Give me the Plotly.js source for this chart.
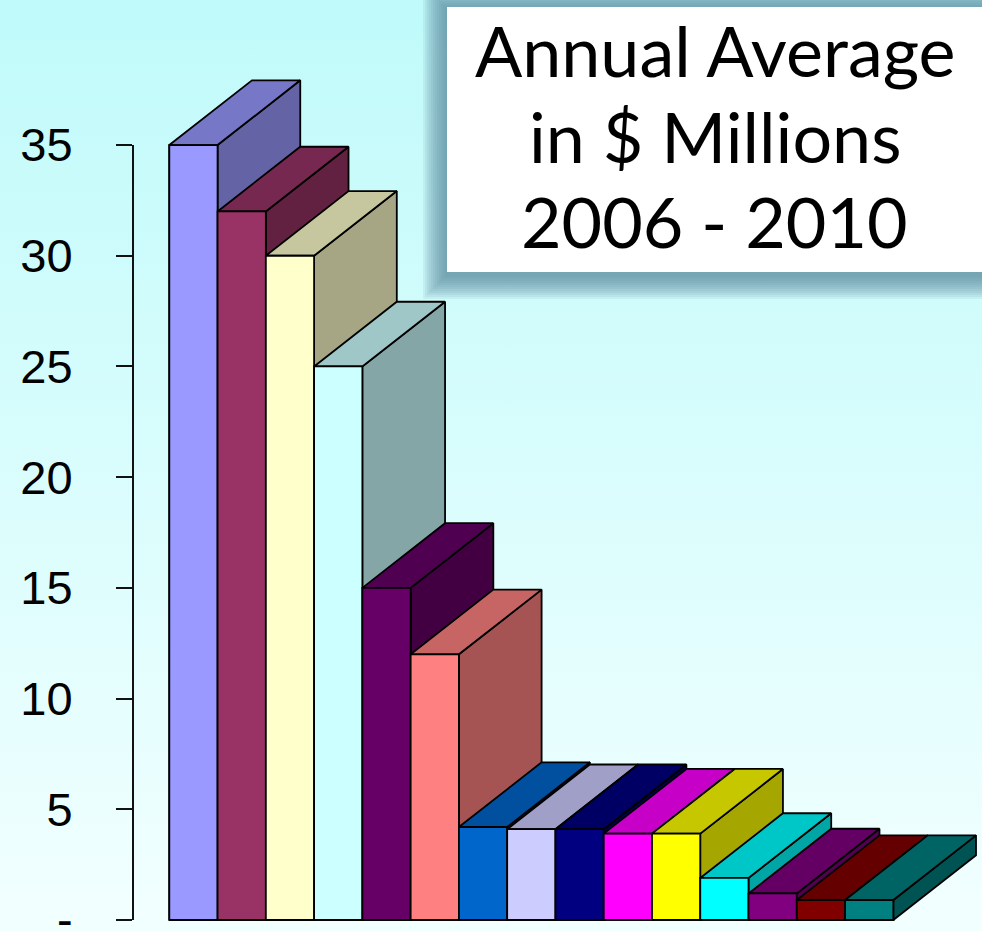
<!DOCTYPE html>
<html><head><meta charset="utf-8">
<script src="https://cdn.plot.ly/plotly-3.0.1.min.js"></script>
<style>
html,body{margin:0;padding:0;}
body{width:982px;height:931px;overflow:hidden;background:linear-gradient(to bottom,#c0fafa 0%,#f2ffff 100%);}
#chart{width:982px;height:931px;}
</style></head><body><div id="chart"></div>
<script>
// ---- data ----
const categories = ['1','2','3','4','5','6','7','8','9','10','11','12','13','14','15'];
const values = [35, 32, 30, 25, 15, 12, 4.2, 4.1, 4.1, 3.9, 3.9, 1.9, 1.2, 0.9, 0.9];
const frontColors = ['#9999FF','#993366','#FFFFCC','#CCFFFF','#660066','#FF8080','#0066CC','#CCCCFF',
                     '#000080','#FF00FF','#FFFF00','#00FFFF','#800080','#800000','#008080'];
const tickValues = [0, 5, 10, 15, 20, 25, 30, 35];
const tickLabels = ['-', '5', '10', '15', '20', '25', '30', '35'];
const titleLines = ['Annual Average', 'in $ Millions', '2006 - 2010'];

// ---- style ----
const DEPTH_X = 1.713, DEPTH_Y = 2.922;
const TOP_SHADE = 0.78, SIDE_SHADE = 0.65;
const W = 982, H = 931;
const M = {l:133, r:0, t:60, b:8};
const plotW = W - M.l - M.r, plotH = H - M.t - M.b;
const px2x = px => (px - M.l) / plotW;
const px2y = py => (H - M.b - py) / plotH;

function shade(hex, f) {
  const n = parseInt(hex.slice(1), 16);
  const r = Math.round(((n >> 16) & 255) * f), g = Math.round(((n >> 8) & 255) * f), b = Math.round((n & 255) * f);
  return 'rgb(' + r + ',' + g + ',' + b + ')';
}
function poly(pts, color) {
  const xs = pts.map(p => p[0]).concat([pts[0][0]]);
  const ys = pts.map(p => p[1]).concat([pts[0][1]]);
  return {type:'scatter', mode:'lines', x:xs, y:ys, fill:'toself', fillcolor:color,
          line:{color:'#000', width:1.8}, hoverinfo:'skip', showlegend:false};
}

const traces = [{
  type:'bar', x:categories.map((c, i) => i), y:values, width:1,
  marker:{color:frontColors, line:{color:'#000', width:1.8}},
  text:categories, textposition:'none', hoverinfo:'y', showlegend:false
}];
values.forEach((v, i) => {
  const L = i - 0.5, R = i + 0.5;
  traces.push(poly([[R,0],[R+DEPTH_X,DEPTH_Y],[R+DEPTH_X,v+DEPTH_Y],[R,v]], shade(frontColors[i], SIDE_SHADE)));
  traces.push(poly([[L,v],[R,v],[R+DEPTH_X,v+DEPTH_Y],[L+DEPTH_X,v+DEPTH_Y]], shade(frontColors[i], TOP_SHADE)));
  traces.push(poly([[L,0],[R,0],[R,v],[L,v]], frontColors[i]));
});

const shapes = [{type:'line', xref:'paper', yref:'y', x0:0, x1:0, y0:0, y1:35, line:{color:'#111', width:2}}];
const box = {x0:447, x1:995, y0:7, y1:272};
for (let k = 12; k >= 1; k--) {
  const d = 2 * k;
  shapes.push({type:'rect', xref:'paper', yref:'paper', layer:'above',
    x0:px2x(box.x0 - d), x1:px2x(box.x1 + d), y0:px2y(box.y1 + d + 3), y1:px2y(box.y0 - d + 2),
    fillcolor:'rgba(90,140,155,0.10)', line:{width:0}});
}
shapes.push({type:'rect', xref:'paper', yref:'paper', layer:'above',
  x0:px2x(box.x0), x1:px2x(box.x1), y0:px2y(box.y1), y1:px2y(box.y0),
  fillcolor:'#ffffff', line:{width:0}});

const lineCenters = [50, 135.5, 221];
const annotations = titleLines.map((t, i) => ({
  xref:'paper', yref:'paper', x:px2x(714.5), y:px2y(lineCenters[i]),
  xanchor:'center', yanchor:'middle', showarrow:false, align:'center',
  text:t, font:{family:'Lato, Noto Sans, sans-serif', size:70, color:'#000'}
}));

const layout = {
  width:W, height:H, margin:{l:M.l, r:M.r, t:M.t, b:M.b, pad:0},
  paper_bgcolor:'rgba(0,0,0,0)', plot_bgcolor:'rgba(0,0,0,0)',
  showlegend:false, hovermode:'closest',
  xaxis:{range:[-1.252, 16.337], visible:false, fixedrange:true},
  yaxis:{range:[-0.1355, 38.84], tickvals:tickValues, ticktext:tickLabels,
         ticks:'outside', ticklen:16, tickwidth:2, tickcolor:'#111',
         showgrid:false, zeroline:false, showline:false, fixedrange:true,
         ticklabelstandoff:34, ticklabeloverflow:'allow',
         tickfont:{family:'Liberation Sans, Arial, sans-serif', size:47, color:'#000'}},
  shapes:shapes,
  annotations:annotations
};
Plotly.newPlot('chart', traces, layout, {displayModeBar:false});
</script></body></html>
